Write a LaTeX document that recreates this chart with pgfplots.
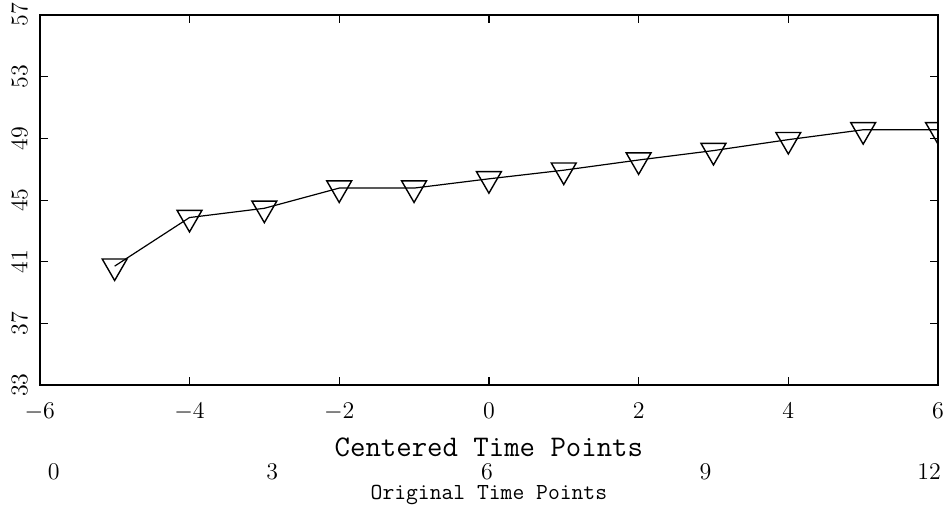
\documentclass[border=0pt]{standalone}
\usepackage{fontspec}
\usepackage{pgfplots}
\usetikzlibrary{calc}
\pgfplotsset{compat=1.18}
\begin{document}
\begin{tikzpicture}
\begin{axis}[
  scale only axis,
  width=450pt, height=185.5pt,
  xmin=-6, xmax=6, ymin=33, ymax=57,
  xtick={-6,-4,...,6},
  ytick={33,37,...,57},
  tick align=inside,
  major tick length=4pt,
  axis line style={line width=1pt},
  every tick/.style={black, line width=0.6pt},
  tick label style={font=\fontsize{12}{14}\selectfont},
  xticklabel style={anchor=north, inner sep=0pt, yshift=-8.5pt},
  yticklabel style={rotate=90, anchor=south, inner xsep=0pt, inner ysep=6pt},
  clip marker paths=true,
]
\addplot[black, line width=0.6pt, mark=triangle, mark size=7.2pt,
  mark options={rotate=180, line width=0.7pt, solid}]
  coordinates {
  (-5,40.72) (-4,43.87) (-3,44.47) (-2,45.78) (-1,45.78) (0,46.38)
  (1,46.94) (2,47.6) (3,48.21) (4,48.92) (5,49.56) (6,49.56)
  };
\coordinate (O) at (rel axis cs:0,0);
\end{axis}
\path (O) ++(-19pt,-62pt) rectangle ++(475pt,255pt);
\node[font=\ttfamily\fontsize{15}{17}\selectfont] at ($(O)+(225pt,-31pt)$) {Centered Time Points};
\node[font=\ttfamily\fontsize{11.5}{13}\selectfont] at ($(O)+(225pt,-54.8pt)$) {Original Time Points};
\foreach \v/\px in {0/52,3/271,6/486,9/705,12/929} {
  \node[font=\fontsize{12}{14}\selectfont, inner sep=0pt] at ($(O)+(\px*0.5pt-19pt,-43.3pt)$) {$\v$};
}
\end{tikzpicture}
\end{document}
